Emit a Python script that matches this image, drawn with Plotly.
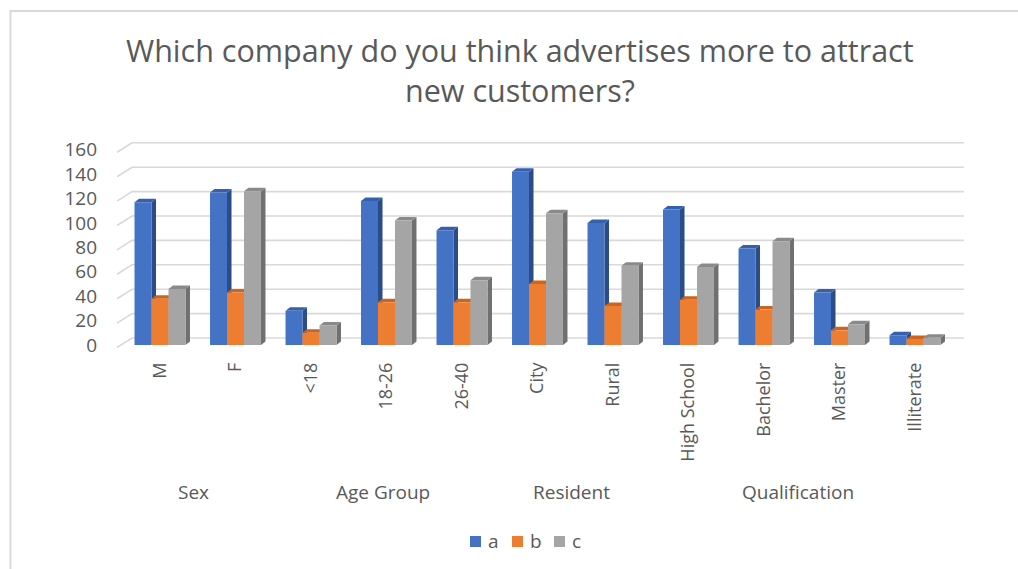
import plotly.graph_objects as go

# Survey answers: which company advertises more to attract new customers
categories = ["M", "F", "<18", "18-26", "26-40", "City", "Rural",
              "High School", "Bachelor", "Master", "Illiterate"]
groups = ["Sex", "Age Group", "Resident", "Qualification"]
group_sizes = [2, 3, 2, 4]
series_names = ["a", "b", "c"]
values_a = [117, 125, 28, 118, 94, 142, 100, 111, 79, 43, 8]
values_b = [38, 43, 10, 35, 35, 50, 32, 37, 29, 12, 5]
values_c = [46, 126, 16, 102, 53, 108, 65, 64, 85, 17, 6]
y_ticks = [0, 20, 40, 60, 80, 100, 120, 140, 160]
title_lines = ["Which company do you think advertises more to attract",
               "new customers?"]

front_colors = ["#4472C4", "#ED7D31", "#A5A5A5"]
side_colors = ["#2B4C86", "#A9561F", "#707070"]
top_colors = ["#3560AE", "#C9651F", "#8A8A8A"]
all_values = [values_a, values_b, values_c]

FONT = "Open Sans"
TEXT_COLOR = "#595959"

# ---- page geometry (pixels) ----
W, H = 1018, 569
PL, PR, PT, PB = 100, 970, 140, 352          # plot area edges
CAT0_PX, CAT_PX = 160.0, 75.5                # first category centre, category pitch
BASE_PX, UNIT_PX = 345.0, 1.22               # y=0 pixel row, pixels per unit

x_range = [(PL - CAT0_PX) / CAT_PX, (PR - CAT0_PX) / CAT_PX]
y_range = [-(PB - BASE_PX) / UNIT_PX, (BASE_PX - PT) / UNIT_PX]


def dx(px):
    return px / CAT_PX


def dy(px):
    return px / UNIT_PX


def data_x(px):
    return (px - CAT0_PX) / CAT_PX


def paper_x(px):
    return (px - PL) / (PR - PL)


def paper_y(py):
    return (PB - py) / (PB - PT)


GAP = 0.325
BAR_W = (1 - GAP) / 3
DEPTH_X, DEPTH_Y = dx(4.5), dy(3.5)

shapes = []

# back wall grid lines with their slanted lead-in from the value axis
WALL_LIFT = dy(7)
for v in y_ticks:
    pts = [(data_x(117), v - dy(2.5)), (data_x(132), v + WALL_LIFT),
           (data_x(964), v + WALL_LIFT)]
    path = "M {} {} L {} {} L {} {}".format(*[c for p in pts for c in p])
    shapes.append(dict(type="path", path=path, xref="x", yref="y",
                       line=dict(color="#D9D9D9", width=1.6), layer="below"))

# depth faces (side + top) of each column, computed from its value
for i in range(len(categories)):
    for k in range(3):
        v = all_values[k][i]
        xl = i - (1 - GAP) / 2 + k * BAR_W
        xr = xl + BAR_W
        side = (f"M {xr} 0 L {xr + DEPTH_X} {DEPTH_Y} "
                f"L {xr + DEPTH_X} {v + DEPTH_Y} L {xr} {v} Z")
        top = (f"M {xl} {v} L {xl + DEPTH_X} {v + DEPTH_Y} "
               f"L {xr + DEPTH_X} {v + DEPTH_Y} L {xr} {v} Z")
        shapes.append(dict(type="path", path=side, xref="x", yref="y",
                           fillcolor=side_colors[k], line=dict(width=0),
                           layer="below"))
        shapes.append(dict(type="path", path=top, xref="x", yref="y",
                           fillcolor=top_colors[k], line=dict(width=0),
                           layer="below"))

# chart area border
shapes.append(dict(type="rect", xref="paper", yref="paper",
                   x0=paper_x(10.5), x1=paper_x(1040),
                   y0=paper_y(11), y1=paper_y(600),
                   line=dict(color="#D9D9D9", width=2), layer="below"))

fig = go.Figure()
x_idx = list(range(len(categories)))
for k in range(3):
    fig.add_trace(go.Bar(
        x=x_idx, y=all_values[k], name=series_names[k],
        marker=dict(color=front_colors[k], line=dict(width=0)),
        hoverinfo="x+y", showlegend=False,
    ))

annotations = []

# title, one annotation per line
for text, cy in zip(title_lines, [50, 90]):
    annotations.append(dict(
        x=paper_x(520), y=paper_y(cy), xref="paper", yref="paper",
        text=text, showarrow=False, xanchor="center", yanchor="middle",
        font=dict(family=FONT, size=30.5, color=TEXT_COLOR)))

# group captions under the category labels
start = 0
for g, n in zip(groups, group_sizes):
    annotations.append(dict(
        x=start + (n - 1) / 2, y=paper_y(492), xref="x", yref="paper",
        text=g, showarrow=False, xshift=-4,
        font=dict(family=FONT, size=19, color=TEXT_COLOR),
        xanchor="center", yanchor="middle"))
    start += n

# series key: colour swatch followed by the series name
key_swatch_px = [470, 512, 554]
for name, color, sx in zip(series_names, front_colors, key_swatch_px):
    shapes.append(dict(type="rect", xref="paper", yref="paper",
                       x0=paper_x(sx), x1=paper_x(sx + 11),
                       y0=paper_y(547), y1=paper_y(536),
                       fillcolor=color, line=dict(width=0)))
    annotations.append(dict(
        x=paper_x(sx + 16), y=paper_y(541), xref="paper", yref="paper",
        text=name, showarrow=False, xanchor="left", yanchor="middle",
        font=dict(family=FONT, size=19, color=TEXT_COLOR)))

fig.update_layout(
    width=W, height=H,
    margin=dict(l=PL, r=W - PR, t=PT, b=H - PB, autoexpand=False),
    paper_bgcolor="white", plot_bgcolor="white",
    barmode="group", bargap=GAP, bargroupgap=0,
    showlegend=False,
    font=dict(family=FONT, color=TEXT_COLOR),
    xaxis=dict(range=x_range, tickmode="array", tickvals=x_idx,
               ticktext=categories, tickangle=-90, showgrid=False,
               zeroline=False, showline=False, ticks="",
               ticklabelstandoff=6,
               tickfont=dict(family=FONT, size=18, color=TEXT_COLOR)),
    yaxis=dict(range=y_range, tickmode="array", tickvals=y_ticks,
               showgrid=False, zeroline=False, showline=False, ticks="",
               ticklabelstandoff=2,
               tickfont=dict(family=FONT, size=19, color=TEXT_COLOR)),
    shapes=shapes,
    annotations=annotations,
)

fig.write_html("out.html")
